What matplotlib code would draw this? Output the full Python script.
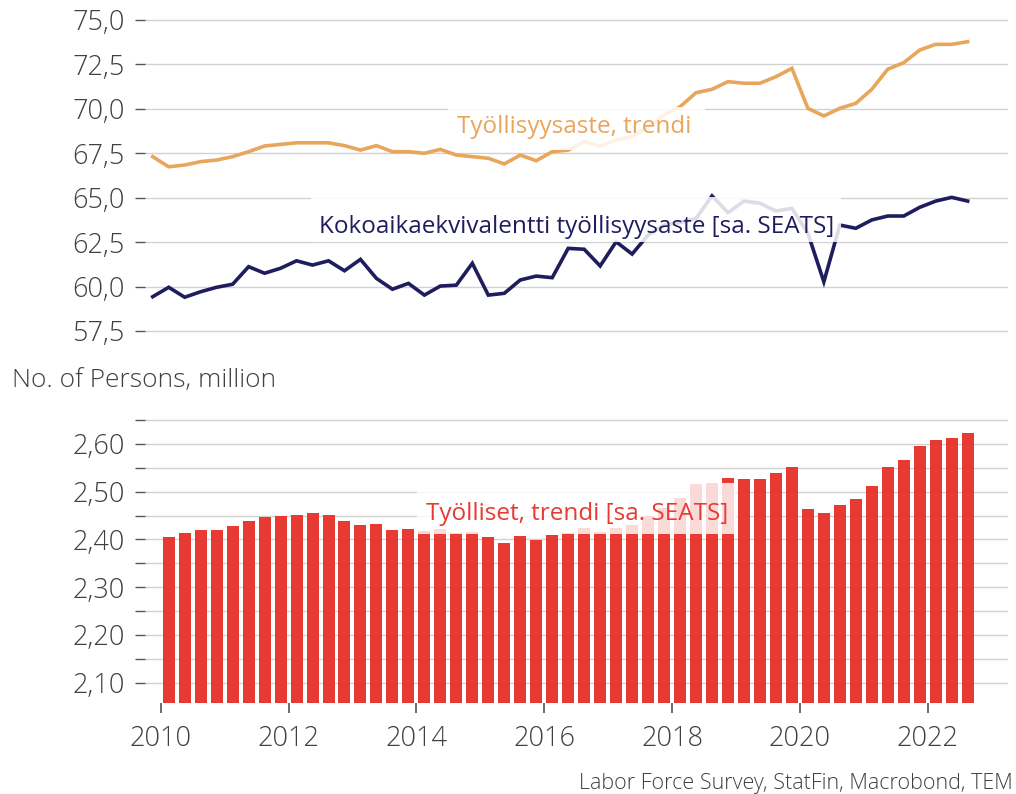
import numpy as np
import pandas as pd
import matplotlib
matplotlib.use('Agg')
import matplotlib.pyplot as plt
from matplotlib.patches import Rectangle
from matplotlib.ticker import MultipleLocator, FuncFormatter

plt.rcParams['font.family'] = ['Open Sans', 'DejaVu Sans']
plt.rcParams['font.weight'] = 'light'

# Quarterly data
quarters_top = pd.period_range('2009Q4', '2022Q3', freq='Q')
quarters_bar = pd.period_range('2010Q1', '2022Q3', freq='Q')

employment_rate_trend = [
    67.31, 66.74, 66.84, 67.03, 67.12, 67.31, 67.59, 67.91, 68.00, 68.09,
    68.09, 68.09, 67.93, 67.68, 67.93, 67.59, 67.59, 67.50, 67.72, 67.40,
    67.31, 67.22, 66.90, 67.40, 67.08, 67.59, 67.68, 68.15, 67.91, 68.25,
    68.43, 69.00, 69.65, 70.12, 70.91, 71.10, 71.53, 71.44, 71.44, 71.81,
    72.28, 70.03, 69.60, 70.03, 70.31, 71.10, 72.23, 72.60, 73.31, 73.63,
    73.63, 73.78]

fte_employment_rate = [
    59.43, 59.96, 59.40, 59.71, 59.96, 60.13, 61.12, 60.75, 61.03, 61.45,
    61.21, 61.45, 60.89, 61.53, 60.46, 59.85, 60.18, 59.52, 60.03, 60.08,
    61.31, 59.52, 59.62, 60.37, 60.59, 60.50, 62.15, 62.10, 61.16, 62.52,
    61.83, 62.90, 63.46, 63.60, 63.84, 65.10, 64.16, 64.81, 64.69, 64.25,
    64.40, 63.00, 60.27, 63.46, 63.28, 63.75, 63.97, 63.97, 64.46, 64.81,
    65.02, 64.81]

employed_trend = [
    2.406, 2.413, 2.420, 2.420, 2.427, 2.439, 2.446, 2.448, 2.452, 2.455,
    2.451, 2.438, 2.431, 2.433, 2.420, 2.422, 2.418, 2.422, 2.413, 2.416,
    2.406, 2.393, 2.407, 2.399, 2.410, 2.413, 2.424, 2.416, 2.424, 2.431,
    2.450, 2.466, 2.487, 2.515, 2.518, 2.529, 2.527, 2.527, 2.539, 2.552,
    2.464, 2.456, 2.472, 2.485, 2.512, 2.551, 2.567, 2.596, 2.609, 2.613,
    2.622]

label_rate = 'Työllisyysaste, trendi'
label_fte = 'Kokoaikaekvivalentti työllisyysaste [sa. SEATS]'
label_employed = 'Työlliset, trendi [sa. SEATS]'
unit_label = 'No. of Persons, million'
source_label = 'Labor Force Survey, StatFin, Macrobond, TEM'

# Colours
orange = '#e8a65c'
navy = '#1f1d5e'
red = '#e63a32'
grid_c = '#d2d2d2'
text_c = '#404040'


def qpos(periods):
    # centre of each quarter as fractional year
    return np.array([p.year + (p.quarter - 0.5) / 4 for p in periods])


x_top = qpos(quarters_top)
x_bar = qpos(quarters_bar)

W, H = 1016, 794
fig = plt.figure(figsize=(W / 100, H / 100), dpi=100)

left, right = 145 / W, 1008 / W
# axes padded by 2 px so the outer gridlines are not clipped
ax1 = fig.add_axes([left, 1 - 333 / H, right - left, (333 - 18) / H])
ax2 = fig.add_axes([left, 1 - 703 / H, right - left, (703 - 418) / H])

xlim = (2009.754, 2023.256)


def style(ax):
    for s in ax.spines.values():
        s.set_visible(False)
    ax.grid(axis='y', which='both', color=grid_c, linewidth=1.0, zorder=0)
    ax.set_axisbelow(True)
    ax.tick_params(axis='y', which='both', length=7.5, width=1.0, color='#555555',
                   labelsize=19.5, labelcolor=text_c, pad=7)
    ax.set_xlim(*xlim)


# ---- top: employment rates ----
style(ax1)
ppu1 = 311 / 17.5
ax1.set_ylim(57.5 - 2 / ppu1, 75.0 + 2 / ppu1)
ax1.yaxis.set_major_locator(MultipleLocator(2.5))
ax1.yaxis.set_major_formatter(FuncFormatter(lambda v, p: f'{v:.1f}'.replace('.', ',')))
ax1.set_xticks([])

ax1.plot(x_top, employment_rate_trend, color=orange, linewidth=2.6, zorder=2,
         solid_joinstyle='miter')
ax1.plot(x_top, fte_employment_rate, color=navy, linewidth=2.6, zorder=2,
         solid_joinstyle='miter')

ax1.add_patch(Rectangle((2014.49, 67.68), 2018.51 - 2014.49, 70.10 - 67.68,
                        facecolor='white', alpha=0.85, edgecolor='none', zorder=4))
ax1.add_patch(Rectangle((2012.35, 62.51), 2020.65 - 2012.35, 65.04 - 62.51,
                        facecolor='white', alpha=0.85, edgecolor='none', zorder=4))
ax1.text(2016.47, 68.64, label_rate, color=orange, fontsize=17.5, fontweight='normal',
         ha='center', va='baseline', zorder=5)
ax1.text(2016.50, 63.01, label_fte, color=navy, fontsize=17.5, fontweight='normal',
         ha='center', va='baseline', zorder=5)

# ---- bottom: number of employed ----
style(ax2)
ax2.set_ylim(2.0574, 2.65 + 2 / 476.8)
ax2.yaxis.set_major_locator(MultipleLocator(0.1))
ax2.yaxis.set_minor_locator(MultipleLocator(0.05))
ax2.yaxis.set_major_formatter(FuncFormatter(lambda v, p: f'{v:.2f}'.replace('.', ',')))
ax2.set_xticks(np.arange(2010, 2023, 2))
ax2.tick_params(axis='x', length=7, width=1.2, color='#555555', labelsize=19.5,
                labelcolor=text_c, pad=9)

ax2.bar(x_bar, employed_trend, width=0.1877, color=red, zorder=2)

ax2.add_patch(Rectangle((2014.005, 2.412), 2019.01 - 2014.005, 2.519 - 2.412,
                        facecolor='white', alpha=0.82, edgecolor='none', zorder=4))
ax2.text(2016.51, 2.441, label_employed, color=red, fontsize=17.5, fontweight='normal',
         ha='center', va='baseline', zorder=5)

fig.text(12 / W, 1 - 380 / H, unit_label, fontsize=19, color=text_c, va='center')
fig.text(1013 / W, 1 - 783 / H, source_label, fontsize=15.5, color=text_c,
         ha='right', va='center')

fig.savefig('out.png', dpi=100)
